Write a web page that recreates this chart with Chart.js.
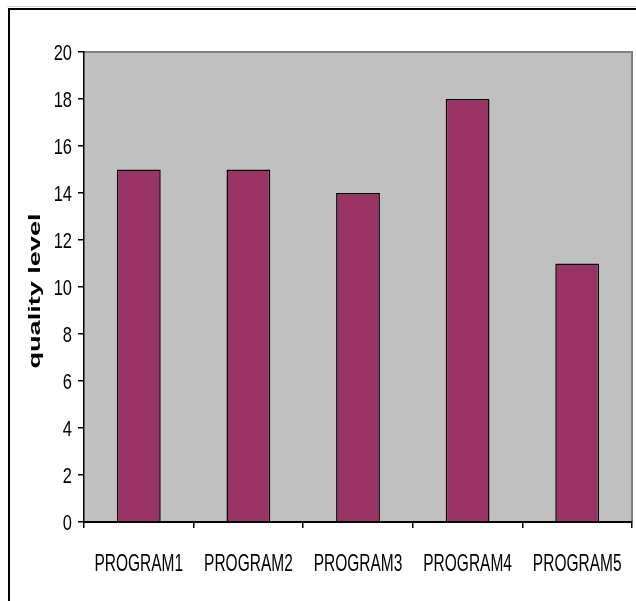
<!DOCTYPE html>
<html>
<head>
<meta charset="utf-8">
<script src="https://cdn.jsdelivr.net/npm/chart.js@4/dist/chart.umd.min.js"></script>
<style>
  html, body { margin: 0; padding: 0; background: #ffffff; }
  #wrap { width: 636px; height: 601px; }
</style>
</head>
<body>
<div id="wrap"><canvas id="c" width="636" height="601"></canvas></div>
<script>
// Program names along the category axis
const programs = ['PROGRAM1', 'PROGRAM2', 'PROGRAM3', 'PROGRAM4', 'PROGRAM5'];
// Quality level measured for each program
const qualityLevels = [15, 15, 14, 18, 11];
// Value axis range and step
const yTicks = { min: 0, max: 20, step: 2 };
const yTitle = 'quality level';

const SANS = "'Liberation Sans', Arial, sans-serif";

// Draw text stretched vertically (tall, narrow lettering)
function tallText(ctx, text, x, baseY, size, stretch, align) {
  ctx.save();
  ctx.font = size + 'px ' + SANS;
  ctx.textAlign = align;
  ctx.textBaseline = 'alphabetic';
  ctx.translate(x, baseY);
  ctx.scale(1, stretch);
  ctx.fillText(text, 0, 0);
  ctx.restore();
}

// Frame, grey plot background, tick labels and the rotated axis title
const decor = {
  id: 'decor',
  beforeDraw(chart) {
    const { ctx, chartArea: a } = chart;
    ctx.save();
    ctx.fillStyle = '#ffffff';
    ctx.fillRect(0, 0, chart.width, chart.height);
    // outer frame
    ctx.strokeStyle = '#d0d0d0';
    ctx.lineWidth = 1;
    ctx.beginPath();
    ctx.moveTo(7, 6.5); ctx.lineTo(chart.width, 6.5);
    ctx.stroke();
    ctx.strokeStyle = '#000000';
    ctx.lineWidth = 2;
    ctx.beginPath();
    ctx.moveTo(chart.width, 9); ctx.lineTo(9, 9); ctx.lineTo(9, chart.height);
    ctx.stroke();
    // plot background
    ctx.fillStyle = '#c0c0c0';
    ctx.fillRect(a.left, a.top, a.right - a.left, a.bottom - a.top);
    ctx.strokeStyle = '#808080';
    ctx.lineWidth = 2;
    ctx.beginPath();
    ctx.moveTo(a.left, a.top); ctx.lineTo(a.right, a.top); ctx.lineTo(a.right, a.bottom);
    ctx.stroke();
    ctx.restore();
  },
  afterDraw(chart) {
    const { ctx, chartArea: a } = chart;
    const xs = chart.scales.x, ys = chart.scales.y;
    ctx.save();
    ctx.fillStyle = '#000000';
    // category labels
    xs.ticks.forEach((t, i) => {
      tallText(ctx, xs.getLabelForValue(t.value), xs.getPixelForTick(i), a.bottom + 49, 15.5, 1.6, 'center');
    });
    // value labels
    ys.ticks.forEach((t, i) => {
      tallText(ctx, String(t.value), a.left - 12, ys.getPixelForTick(i) + 7.5, 16.5, 1.33, 'right');
    });
    // axis title
    ctx.font = 'bold 16px ' + SANS;
    const w = ctx.measureText(yTitle).width;
    ctx.translate(36, 291);
    ctx.rotate(-Math.PI / 2);
    ctx.scale(155 / w, 1);
    ctx.textAlign = 'center';
    ctx.textBaseline = 'middle';
    ctx.fillText(yTitle, 0, 0);
    ctx.restore();
  }
};

new Chart(document.getElementById('c'), {
  type: 'bar',
  data: {
    labels: programs,
    datasets: [{
      data: qualityLevels,
      backgroundColor: '#993366',
      borderColor: '#000000',
      borderWidth: 1.5,
      borderSkipped: 'bottom',
      barPercentage: 0.4,
      categoryPercentage: 1.0
    }]
  },
  options: {
    responsive: false,
    animation: false,
    events: [],
    layout: { padding: { top: 52, right: 4, bottom: 0, left: 0 } },
    plugins: { legend: { display: false }, tooltip: { enabled: false } },
    scales: {
      x: {
        offset: true,
        grid: { offset: true, drawOnChartArea: false, drawTicks: true, tickLength: 6, color: '#000000', lineWidth: 1.5 },
        border: { display: true, color: '#000000', width: 2 },
        ticks: { display: false, autoSkip: false },
        afterFit(s) { s.height = 79; }
      },
      y: {
        min: yTicks.min,
        max: yTicks.max,
        grid: { drawOnChartArea: false, drawTicks: true, tickLength: 6, color: '#000000', lineWidth: 1.5 },
        border: { display: true, color: '#000000', width: 1.5 },
        ticks: { display: false, stepSize: yTicks.step },
        afterFit(s) { s.width = 84; }
      }
    }
  },
  plugins: [decor]
});
</script>
</body>
</html>
